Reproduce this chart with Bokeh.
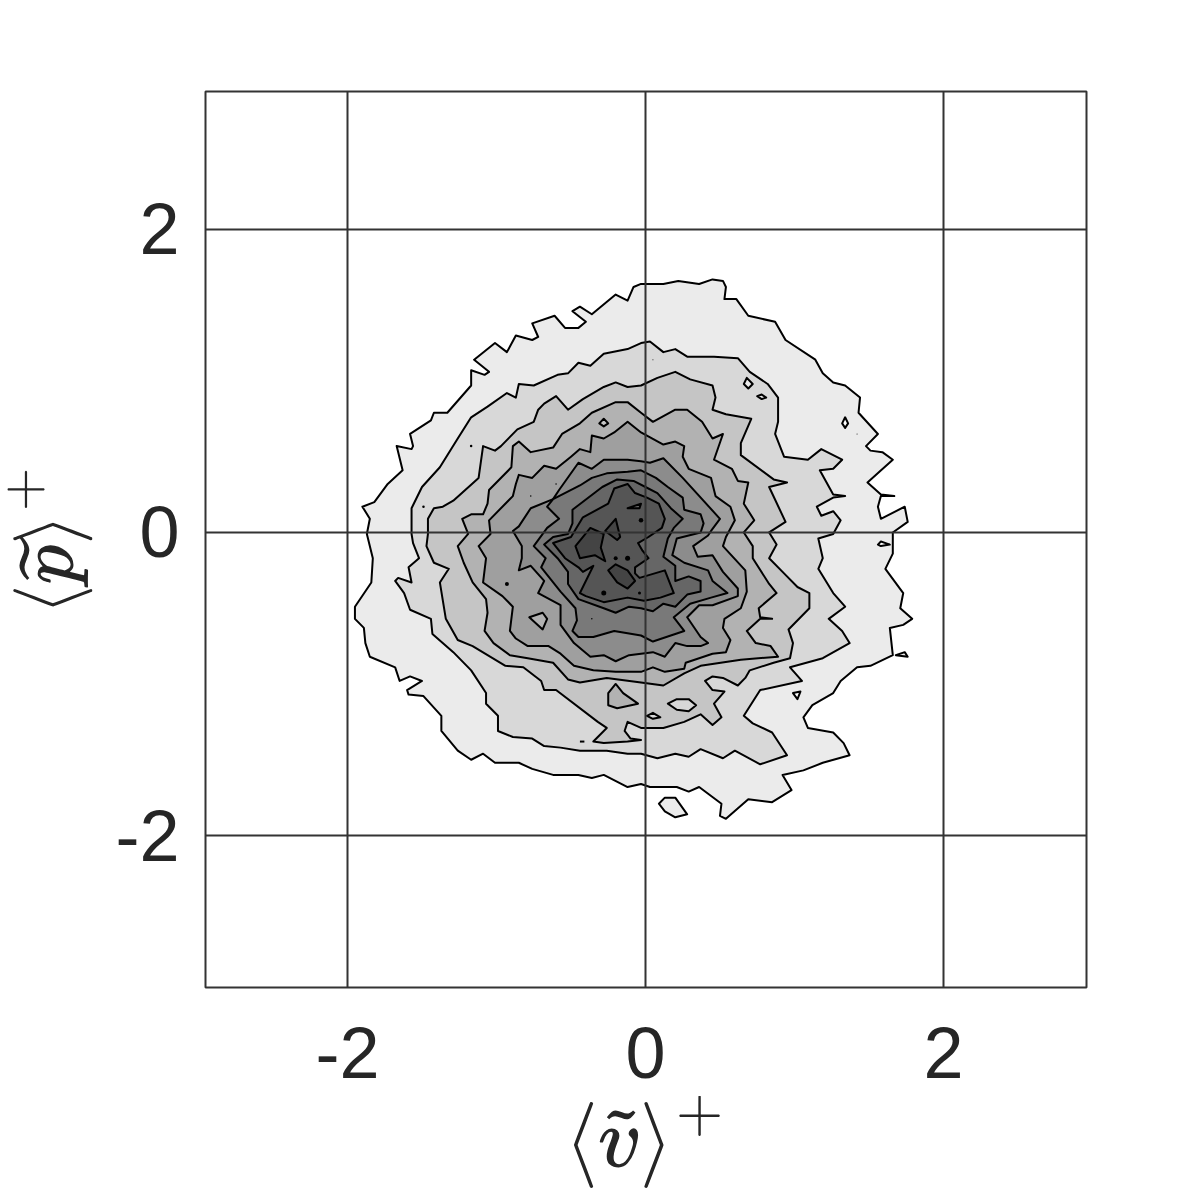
from bokeh.plotting import figure
from bokeh.embed import file_html
from bokeh.resources import INLINE
from bokeh.models import Range1d, FixedTicker

x_ticks = [-2, 0, 2]
y_ticks = [-2, 0, 2]
tick_labels = {-2: "-2", 0: "0", 2: "2"}
x_label = r"$$\langle\widetilde{v}\rangle^{+}$$"
y_label = r"$$\langle\widetilde{p}\rangle^{+}$$"

level_1 = [(0,1.64),(.12,1.64),(.22,1.66),(.36,1.64),(.45,1.67),(.52,1.66),(.54,1.62),(.53,1.54),(.61,1.54),(.69,1.43),(.87,1.39),(.94,1.27),(1.14,1.14),(1.19,1.05),(1.26,.99),(1.34,.97),(1.44,.89),(1.43,.79),(1.56,.65),(1.48,.57),(1.51,.54),(1.59,.53),(1.66,.48),(1.57,.40),(1.49,.33),(1.58,.25),(1.67,.24),(1.58,.24),(1.56,.17),(1.58,.09),(1.74,.17),(1.76,.07),(1.66,0),(1.66,-.14),(1.61,-.24),(1.73,-.40),(1.71,-.50),(1.79,-.57),(1.73,-.61),(1.64,-.63),(1.66,-.81),(1.51,-.88),(1.42,-.89),(1.31,-.98),(1.26,-1.06),(1.12,-1.14),(1.06,-1.22),(1.09,-1.29),(1.26,-1.32),(1.33,-1.39),(1.37,-1.47),(1.19,-1.52),(1.06,-1.57),(.92,-1.60),(.98,-1.70),(.85,-1.78),(.69,-1.76),(.54,-1.89),(.50,-1.87),(.51,-1.79),(.36,-1.68),(.29,-1.71),(.21,-1.68),(.03,-1.68),(-.03,-1.66),(-.12,-1.68),(-.28,-1.60),(-.36,-1.62),(-.45,-1.60),(-.62,-1.60),(-.76,-1.56),(-.85,-1.52),(-1.01,-1.52),(-1.09,-1.46),(-1.17,-1.50),(-1.26,-1.44),(-1.37,-1.31),(-1.37,-1.21),(-1.49,-1.08),(-1.59,-1.07),(-1.60,-1.04),(-1.50,-.98),(-1.58,-.95),(-1.65,-.98),(-1.68,-.89),(-1.85,-.82),(-1.88,-.73),(-1.89,-.63),(-1.95,-.57),(-1.95,-.49),(-1.84,-.33),(-1.83,-.17),(-1.87,-.01),(-1.85,.09),(-1.90,.17),(-1.82,.20),(-1.73,.32),(-1.63,.41),(-1.67,.57),(-1.57,.55),(-1.56,.57),(-1.58,.65),(-1.44,.74),(-1.42,.79),(-1.33,.79),(-1.17,.97),(-1.17,1.07),(-1.08,1.04),(-1.05,1.06),(-1.15,1.14),(-1.01,1.25),(-.93,1.19),(-.87,1.30),(-.76,1.27),(-.72,1.29),(-.76,1.38),(-.61,1.43),(-.54,1.35),(-.45,1.35),(-.40,1.39),(-.49,1.46),(-.44,1.49),(-.36,1.44),(-.20,1.57),(-.12,1.53),(-.08,1.62),(-.03,1.64)]
level_2 = [(.03,1.26),(.12,1.19),(.20,1.21),(.28,1.16),(.46,1.16),(.62,1.15),(.70,1.06),(.82,.98),(.89,.89),(.89,.73),(.87,.65),(.93,.50),(1.09,.48),(1.18,.55),(1.32,.48),(1.26,.42),(1.17,.41),(1.26,.25),(1.34,.24),(1.26,.23),(1.15,.17),(1.18,.11),(1.26,.14),(1.31,.08),(1.26,-.01),(1.16,-.04),(1.19,-.17),(1.16,-.24),(1.26,-.40),(1.34,-.49),(1.23,-.57),(1.32,-.65),(1.37,-.73),(1.19,-.83),(.97,-.89),(1.05,-.98),(.77,-1.04),(.66,-1.21),(.72,-1.26),(.85,-1.32),(.95,-1.47),(.77,-1.53),(.60,-1.44),(.52,-1.49),(.37,-1.43),(.29,-1.48),(.20,-1.46),(.08,-1.49),(-.03,-1.46),(-.12,-1.46),(-.26,-1.44),(-.44,-1.44),(-.57,-1.42),(-.68,-1.41),(-.76,-1.36),(-.89,-1.35),(-.99,-1.31),(-.99,-1.21),(-1.07,-1.13),(-1.07,-1.06),(-1.17,-.91),(-1.29,-.79),(-1.43,-.67),(-1.44,-.57),(-1.58,-.51),(-1.62,-.40),(-1.68,-.32),(-1.66,-.30),(-1.57,-.33),(-1.59,-.23),(-1.52,-.17),(-1.56,-.07),(-1.57,-.01),(-1.57,.16),(-1.50,.30),(-1.38,.43),(-1.26,.62),(-1.17,.76),(-1.06,.83),(-.93,.92),(-.87,.89),(-.85,.98),(-.75,.97),(-.59,1.04),(-.52,1.05),(-.45,1.12),(-.37,1.10),(-.28,1.18),(-.12,1.21),(-.03,1.25)]
level_3 = [(.08,1.02),(.20,1.06),(.30,1.01),(.45,.97),(.47,.89),(.45,.81),(.54,.78),(.71,.75),(.64,.59),(.64,.51),(.86,.35),(.95,.33),(.83,.30),(.94,.07),(.83,0),(.88,-.08),(.83,-.17),(.93,-.27),(1.02,-.36),(1.10,-.40),(1.10,-.50),(.96,-.64),(.99,-.73),(.97,-.83),(.86,-.86),(.70,-.91),(.67,-.96),(.62,-1.01),(.52,-.96),(.45,-.95),(.40,-.98),(.45,-1.04),(.53,-1.05),(.46,-1.13),(.51,-1.22),(.45,-1.27),(.37,-1.20),(.26,-1.25),(.12,-1.29),(-.03,-1.29),(-.12,-1.25),(-.14,-1.31),(-.10,-1.36),(-.03,-1.37),(-.12,-1.38),(-.28,-1.39),(-.35,-1.38),(-.26,-1.29),(-.32,-1.25),(-.60,-1.04),(-.68,-1.04),(-.70,-.98),(-.82,-.89),(-.94,-.88),(-1.16,-.75),(-1.26,-.71),(-1.34,-.57),(-1.38,-.33),(-1.32,-.24),(-1.42,-.20),(-1.47,-.09),(-1.46,-.01),(-1.46,.09),(-1.42,.16),(-1.36,.17),(-1.29,.21),(-1.12,.36),(-1.09,.57),(-1.01,.54),(-.97,.57),(-.86,.68),(-.75,.73),(-.72,.81),(-.68,.85),(-.60,.90),(-.52,.81),(-.42,.88),(-.28,.96),(-.20,.99),(-.12,.96),(-.03,.97)]
level_4 = [(.05,.73),(.20,.81),(.28,.81),(.38,.73),(.45,.62),(.52,.65),(.46,.48),(.58,.42),(.62,.34),(.69,.33),(.66,.19),(.73,.08),(.66,0),(.72,-.09),(.72,-.17),(.83,-.34),(.88,-.40),(.76,-.50),(.77,-.56),(.85,-.57),(.77,-.57),(.68,-.65),(.74,-.73),(.84,-.75),(.89,-.82),(.64,-.84),(.37,-.88),(.26,-.93),(.12,-1.01),(-.03,-.99),(-.26,-.96),(-.44,-.99),(-.52,-.97),(-.62,-.86),(-.79,-.83),(-.91,-.81),(-1.02,-.73),(-1.08,-.65),(-1.06,-.53),(-1.07,-.44),(-1.16,-.33),(-1.22,-.20),(-1.26,-.09),(-1.19,-.01),(-1.23,.09),(-1.17,.12),(-1.09,.12),(-1.06,.19),(-1.05,.28),(-.90,.43),(-.89,.57),(-.85,.60),(-.77,.53),(-.62,.56),(-.56,.65),(-.44,.72),(-.36,.79),(-.20,.86),(-.12,.86),(-.03,.79)]
level_5 = [(.12,.58),(.20,.60),(.26,.57),(.25,.50),(.29,.42),(.44,.36),(.47,.24),(.57,.17),(.60,.08),(.54,-.03),(.52,-.09),(.67,-.25),(.68,-.39),(.64,-.50),(.53,-.57),(.52,-.63),(.57,-.71),(.54,-.79),(.45,-.80),(.27,-.86),(.26,-.90),(.13,-.92),(.05,-.89),(-.03,-.92),(-.20,-.92),(-.35,-.91),(-.48,-.88),(-.57,-.80),(-.65,-.75),(-.79,-.75),(-.87,-.70),(-.91,-.65),(-.89,-.49),(-.96,-.42),(-1.09,-.33),(-1.07,-.17),(-1.12,-.09),(-1.04,-.01),(-1.05,.08),(-.89,.24),(-.87,.32),(-.85,.38),(-.76,.36),(-.68,.44),(-.60,.42),(-.50,.50),(-.44,.55),(-.37,.53),(-.36,.64),(-.28,.62),(-.21,.66),(-.12,.73),(-.03,.66)]
level_6 = [(-.03,.47),(.03,.46),(.12,.49),(.25,.36),(.50,.09),(.44,.01),(.42,-.02),(.32,-.09),(.35,-.16),(.45,-.15),(.52,-.26),(.62,-.37),(.62,-.42),(.45,-.48),(.36,-.48),(.28,-.56),(.37,-.69),(.42,-.73),(.37,-.75),(.28,-.75),(.20,-.73),(.13,-.82),(.05,-.79),(-.03,-.80),(-.11,-.81),(-.20,-.85),(-.28,-.81),(-.37,-.82),(-.48,-.73),(-.57,-.61),(-.57,-.48),(-.72,-.40),(-.68,-.32),(-.77,-.22),(-.85,-.25),(-.83,-.17),(-.83,-.09),(-.89,.01),(-.85,.04),(-.77,.16),(-.62,.22),(-.58,.28),(-.45,.46),(-.36,.42),(-.28,.48),(-.12,.48)]
level_7 = [(-.03,.41),(.07,.36),(.15,.30),(.25,.23),(.26,.15),(.37,.12),(.39,.06),(.37,0),(.21,-.04),(.18,-.15),(.26,-.20),(.42,-.25),(.45,-.32),(.55,-.40),(.44,-.43),(.30,-.47),(.19,-.56),(.26,-.65),(.05,-.72),(-.03,-.68),(-.21,-.65),(-.35,-.69),(-.45,-.69),(-.49,-.65),(-.46,-.58),(-.47,-.50),(-.57,-.39),(-.70,-.23),(-.67,-.17),(-.75,-.09),(-.66,.03),(-.58,.09),(-.66,.17),(-.62,.22),(-.44,.31),(-.36,.36),(-.26,.39),(-.12,.40)]
level_8 = [(0,.30),(.08,.26),(.17,.16),(.25,.09),(.19,.03),(.15,-.04),(.12,-.16),(.20,-.22),(.20,-.32),(.29,-.29),(.37,-.32),(.37,-.39),(.28,-.41),(.20,-.49),(.12,-.47),(.05,-.52),(-.03,-.50),(-.11,-.49),(-.20,-.53),(-.28,-.50),(-.45,-.44),(-.52,-.34),(-.52,-.26),(-.59,-.17),(-.68,-.08),(-.62,-.03),(-.52,-.01),(-.49,.06),(-.49,.15),(-.29,.30),(-.19,.35),(-.08,.34)]
level_9 = [(-.12,.32),(-.07,.26),(.01,.23),(.09,.19),(.13,.09),(.11,.03),(.02,-.03),(-.05,-.07),(-.02,-.12),(.02,-.17),(-.07,-.23),(-.07,-.27),(-.04,-.30),(.13,-.25),(.19,-.40),(.10,-.43),(-.01,-.45),(-.12,-.43),(-.28,-.46),(-.40,-.42),(-.44,-.40),(-.35,-.22),(-.42,-.26),(-.45,-.23),(-.54,-.17),(-.62,-.07),(-.50,-.03),(-.42,.10),(-.25,.19),(-.21,.29)]
core_a = [(-.47,-.09),(-.37,.03),(-.28,-.01),(-.30,-.10),(-.27,-.19),(-.34,-.15),(-.44,-.17)]
core_b = [(-.27,.01),(-.20,.09),(-.17,-.03),(-.19,-.05)]
core_c = [(-.25,-.25),(-.20,-.21),(-.12,-.25),(-.07,-.32),(-.12,-.37),(-.19,-.33)]

hole_white = [
    [(1.32,.72),(1.34,.76),(1.36,.72),(1.34,.69)],
    [(1.56,-.08),(1.58,-.06),(1.64,-.08),(1.58,-.09)],
    [(.99,-1.06),(1.04,-1.05),(1.02,-1.10)],
]
isle_level_1 = [
    [(1.68,-.81),(1.74,-.79),(1.76,-.82)],
    [(.09,-1.79),(.13,-1.75),(.20,-1.75),(.28,-1.86),(.20,-1.88),(.13,-1.84)],
]
hole_level_1 = [
    [(.66,.98),(.68,1.02),(.72,.98),(.69,.95)],
    [(.75,.90),(.78,.91),(.81,.89),(.78,.88)],
]
hole_level_2 = [
    [(.15,-1.13),(.21,-1.10),(.29,-1.10),(.34,-1.14),(.29,-1.18),(.21,-1.17)],
    [(.01,-1.21),(.05,-1.19),(.10,-1.22),(.05,-1.23)],
]
isle_level_4 = [[(-.20,-1.00),(-.15,-1.06),(-.05,-1.13),(-.19,-1.16),(-.25,-1.14),(-.25,-1.06)]]
hole_level_3 = [[(-.31,.72),(-.28,.75),(-.25,.72),(-.28,.70)]]
hole_level_4 = [[(-.78,-.56),(-.69,-.53),(-.66,-.57),(-.69,-.64)]]
hole_level_8 = [[(-.12,.16),(-.03,.19),(-.04,.16)]]

dots_x = [-.03, -.20, -.12, -.28, -.04, -.36, -.77, -.60, -.93, -1.17, -1.49, .05, 1.42]
dots_y = [.08, -.17, -.17, -.40, -.40, -.57, .24, .32, -.34, .57, .17, 1.14, .65]
dots_s = [4.5, 4, 5, 5, 3, 1.5, 1.5, 1.5, 4, 2.5, 2.5, 1, 1]
dash_x = [-.44, -.41]
dash_y = [-1.38, -1.38]

greys = ["#ebebeb", "#d8d8d8", "#c5c5c5", "#b2b2b2", "#9f9f9f", "#8c8c8c", "#797979", "#666666", "#555555", "#444444"]

p = figure(width=1192, height=1192, output_backend="svg", toolbar_location=None,
           x_range=Range1d(-2.953, 2.96), y_range=Range1d(-3.003, 2.91),
           min_border_left=205, min_border_right=106, min_border_top=91, min_border_bottom=205,
           background_fill_color="white", border_fill_color="white")


def draw(points, colour):
    xs = [pt[0] for pt in points]
    ys = [pt[1] for pt in points]
    p.patch(xs + xs[:1], ys + ys[:1], fill_color=colour, line_color="black", line_width=2, line_join="round")


for isle in isle_level_1:
    draw(isle, greys[0])
draw(level_1, greys[0])
for h in hole_white:
    draw(h, "white")
draw(level_2, greys[1])
for h in hole_level_1:
    draw(h, greys[0])
draw(level_3, greys[2])
for h in hole_level_2:
    draw(h, greys[1])
for h in isle_level_4:
    draw(h, greys[3])
draw(level_4, greys[3])
for h in hole_level_3:
    draw(h, greys[2])
draw(level_5, greys[4])
for h in hole_level_4:
    draw(h, greys[3])
draw(level_6, greys[5])
draw(level_7, greys[6])
draw(level_8, greys[7])
draw(level_9, greys[8])
for h in hole_level_8:
    draw(h, greys[7])
for c in (core_a, core_b, core_c):
    draw(c, greys[9])

p.line(dash_x, dash_y, line_color="black", line_width=2)
p.scatter(dots_x, dots_y, size=dots_s, color="black", line_width=0)

p.xaxis.ticker = FixedTicker(ticks=x_ticks)
p.yaxis.ticker = FixedTicker(ticks=y_ticks)
p.xgrid.ticker = FixedTicker(ticks=x_ticks)
p.ygrid.ticker = FixedTicker(ticks=y_ticks)
for g in (p.xgrid[0], p.ygrid[0]):
    g.grid_line_color = "#333333"
    g.grid_line_width = 2
    g.level = "overlay"

p.outline_line_color = "#333333"
p.outline_line_width = 2

for ax, lab in ((p.xaxis[0], x_label), (p.yaxis[0], y_label)):
    ax.axis_line_color = None
    ax.major_tick_line_color = None
    ax.minor_tick_line_color = None
    ax.major_label_overrides = tick_labels
    ax.major_label_text_font = "Liberation Sans"
    ax.major_label_text_font_size = "72px"
    ax.major_label_text_color = "#262626"
    ax.axis_label = lab
    ax.axis_label_text_color = "#262626"

p.xaxis[0].axis_label_text_font_size = "72px"
p.yaxis[0].axis_label_text_font_size = "66px"
p.xaxis[0].major_label_standoff = 34
p.xaxis[0].axis_label_standoff = 15
p.yaxis[0].major_label_standoff = 20
p.yaxis[0].axis_label_standoff = 20
p.yaxis[0].major_label_orientation = "horizontal"

open("out.html", "w").write(file_html(p, INLINE))
